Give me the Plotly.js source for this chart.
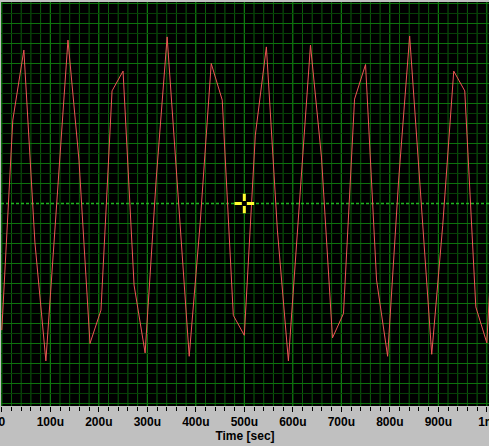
<!DOCTYPE html>
<html>
<head>
<meta charset="utf-8">
<script src="https://cdn.plot.ly/plotly-3.0.1.min.js"></script>
<style>html,body{margin:0;padding:0;background:#c0c0c0;}#chart{width:489px;height:446px;}</style>
</head>
<body>
<div id="chart"></div>
<script>
// sample times in microseconds
var timeUs = [0, 22.7, 45.5, 68.2, 90.9, 113.6, 136.4, 159.1, 181.8, 204.5,
  227.3, 250, 272.7, 295.5, 318.2, 340.9, 363.6, 386.4, 409.1, 431.8,
  454.5, 477.3, 500, 522.7, 545.5, 568.2, 590.9, 613.6, 636.4, 659.1,
  681.8, 704.5, 727.3, 750, 772.7, 795.5, 818.2, 840.9, 863.6, 886.4,
  909.1, 931.8, 954.5, 977.3, 1000, 1022.7];
// signal in grid divisions (centre line = 0)
var signal = [-6.33, 4.17, 7.67, -1.93, -7.87, -0.09, 8.17, 2.17, -7.0, -5.33,
  5.63, 6.62, -4.08, -7.47, 1.17, 8.33, 0.42, -7.64, -0.94, 7.0,
  5.17, -5.59, -6.59, 3.42, 7.83, -1.33, -7.87, -0.09, 7.92, 2.32,
  -6.72, -5.5, 5.22, 6.95, -3.83, -7.64, 1.17, 8.37, 0.67, -7.54,
  -1.09, 6.62, 5.63, -5.17, -6.97, 3.42];
var tickVals = [0, 100, 200, 300, 400, 500, 600, 700, 800, 900, 1000];
var tickText = ['0', '100u', '200u', '300u', '400u', '500u', '600u', '700u', '800u', '900u', '1m'];
var cursorX = [500];
var cursorY = [0];

// grid styling (scope graticule)
var xMinorStep = 20, xMajorStep = 100, xGridMax = 1000;
var yMinorStep = 0.5, yMajorStep = 1, yGridMax = 10;

var shapes = [];
for (var gx = 0; gx <= xGridMax + 1e-9; gx += xMinorStep) {
  var maj = Math.abs(gx / xMajorStep - Math.round(gx / xMajorStep)) < 1e-6;
  shapes.push({type: 'line', xref: 'x', yref: 'paper', x0: gx, x1: gx, y0: 0, y1: 1, layer: 'below',
    line: {color: maj ? '#139a13' : '#0b5e0b', width: 1}});
}
for (var gy = -yGridMax; gy <= yGridMax + 1e-9; gy += yMinorStep) {
  var majY = Math.abs(gy / yMajorStep - Math.round(gy / yMajorStep)) < 1e-6;
  if (Math.abs(gy) < 1e-9) continue;
  shapes.push({type: 'line', xref: 'paper', yref: 'y', x0: 0, x1: 1, y0: gy, y1: gy, layer: 'below',
    line: {color: majY ? '#0d720d' : '#073f07', width: 1}});
}
shapes.push({type: 'line', xref: 'paper', yref: 'y', x0: 0, x1: 1, y0: 0, y1: 0, layer: 'below',
  line: {color: '#1fb81f', width: 1.5, dash: '3px,2px'}});

var traces = [
  {x: timeUs, y: signal, type: 'scatter', mode: 'lines',
   line: {color: '#f05555', width: 1}, hoverinfo: 'none', showlegend: false},
  {x: cursorX, y: cursorY, type: 'scatter', mode: 'markers',
   marker: {symbol: 'cross-thin-open', size: 14, color: '#ffff30', line: {width: 3, color: '#ffff30'}},
   hoverinfo: 'none', showlegend: false},
  {x: cursorX, y: cursorY, type: 'scatter', mode: 'markers',
   marker: {symbol: 'square', size: 5, color: '#000000', line: {width: 0}},
   hoverinfo: 'none', showlegend: false}
];

var layout = {
  width: 489, height: 446,
  margin: {l: 1, r: 0, t: 2, b: 40, pad: 0},
  paper_bgcolor: '#c0c0c0',
  plot_bgcolor: '#000000',
  showlegend: false,
  xaxis: {
    range: [-1.65, 1004.5],
    tickmode: 'array', tickvals: tickVals, ticktext: tickText,
    ticks: 'outside', ticklen: 5, tickcolor: '#000000', tickwidth: 1,
    ticklabeloverflow: 'allow',
    tickfont: {family: 'Liberation Sans, Arial, sans-serif', size: 12, color: '#000000', weight: 'bold'},
    showgrid: false,
    minor: {tickmode: 'linear', tick0: 0, dtick: 20, showgrid: false,
            ticks: 'outside', ticklen: 4, tickcolor: '#000000'},
    zeroline: false, showline: false,
    title: {text: 'Time [sec]', standoff: 2,
            font: {family: 'Liberation Sans, Arial, sans-serif', size: 12, color: '#000000', weight: 'bold'}},
    fixedrange: true
  },
  yaxis: {
    range: [-10.125, 10.075],
    showticklabels: false, ticks: '', showgrid: false,
    zeroline: false, showline: false, fixedrange: true
  },
  shapes: shapes
};

Plotly.newPlot('chart', traces, layout, {displayModeBar: false, staticPlot: true});
</script>
</body>
</html>
